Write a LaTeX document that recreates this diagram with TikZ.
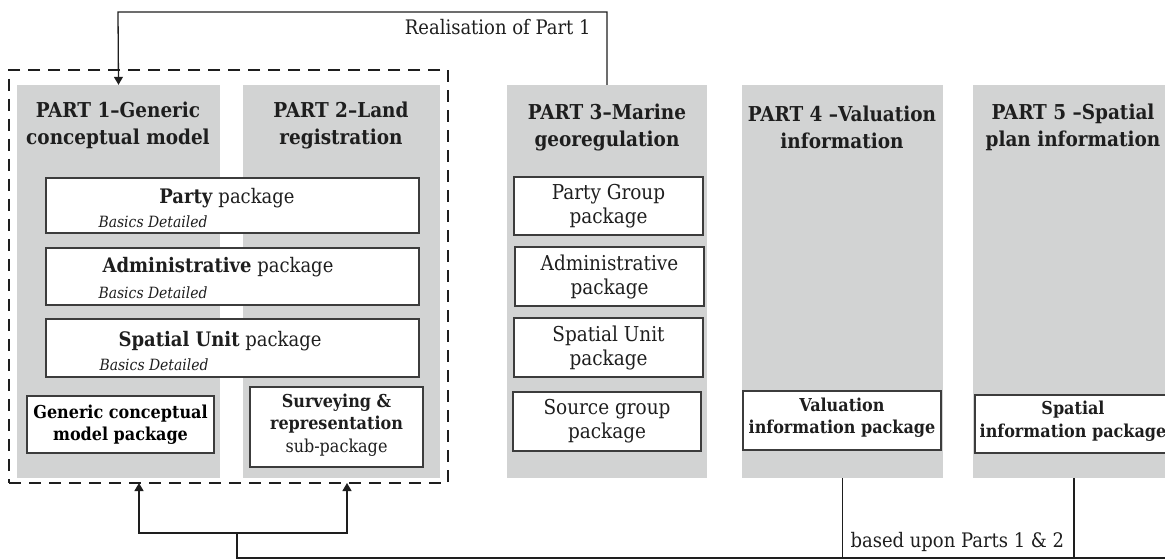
\documentclass[tikz,border=0pt]{standalone}
\usepackage{fontspec}
\setmainfont{DejaVu Serif Condensed}
\usetikzlibrary{arrows.meta,fit}
\definecolor{partgray}{RGB}{210,211,211}
\definecolor{boxline}{RGB}{60,60,60}
\definecolor{ink}{RGB}{30,30,30}

\begin{document}
\begin{tikzpicture}[x=1pt,y=-1pt,
  part/.style={fill=partgray, draw=none, inner sep=0pt},
  pkg/.style={draw=boxline, fill=white, line width=1.7pt, inner sep=0pt, text=ink},
  frame/.style={draw=ink, line width=2.2pt, dash pattern=on 12pt off 8pt, inner sep=0pt},
  title/.style={font=\bfseries\fontsize{20.5}{27}\selectfont, align=center, text=ink},
  bigname/.style={font=\fontsize{20}{24}\selectfont, anchor=base, text=ink},
  levels/.style={font=\itshape\fontsize{15.5}{18}\selectfont, anchor=base west, text=ink},
  boldpkg/.style={font=\bfseries\fontsize{17.8}{22.5}\selectfont, align=center},
  plainpkg/.style={font=\fontsize{20.5}{24}\selectfont, align=center},
  conn/.style={draw=ink, line width=1.3pt},
  tip/.style={-{Triangle[width=9pt,length=8pt]}},
  note/.style={font=\fontsize{20}{24}\selectfont, text=ink},
]
\useasboundingbox (0,0) rectangle (1165,559);

% grey columns of the five parts
\node[part, fit={(17,85) (220,478)}]  (p1) {};
\node[part, fit={(243,85) (440,478)}] (p2) {};
\node[part, fit={(507,85) (707,478)}] (p3) {};
\node[part, fit={(742,85) (943,478)}] (p4) {};
\node[part, fit={(973,85) (1175,478)}] (p5) {};

% dashed frame round parts 1 and 2
\node[frame, fit={(9,70) (448,483)}] (frame) {};

% column titles
\node[title] (t1) at (118,125) {PART 1–Generic\\conceptual model};
\node[title] (t2) at (341,125) {PART 2–Land\\registration};
\node[title] (t3) at (607,127) {PART 3–Marine\\georegulation};
\node[title] (t4) at (842,127) {PART 4 –Valuation\\information};
\node[title] (t5) at (1073,127) {PART 5 –Spatial\\plan information};

% packages shared by parts 1 and 2
\node[pkg, fit={(46,178) (419,233)}] (party) {};
\node[bigname] (partyL) at (227,204) {\textbf{Party} package};
\node[levels] (partyB) at (95,227) {Basics Detailed};

\node[pkg, fit={(46,248) (419,305)}] (admin) {};
\node[bigname] (adminL) at (218,272) {\textbf{Administrative} package};
\node[levels] (adminB) at (95,298) {Basics Detailed};

\node[pkg, fit={(46,319) (419,377)}] (spatial) {};
\node[bigname] (spatialL) at (220,346) {\textbf{Spatial Unit} package};
\node[levels] (spatialB) at (96,370) {Basics Detailed};

\node[pkg, boldpkg, fit={(27,396) (214,453)}] (generic) {};
\node[boldpkg] (genericL) at (generic.center) {Generic conceptual\\model package};

\node[pkg, fit={(250,387) (423,467)}] (survey) {};
\node[boldpkg, text=ink] (surveyL) at ([yshift=2]survey.center)
  {Surveying \&\\representation\\\mdseries sub-package};

% packages of part 3
\node[pkg, fit={(514,177) (703,235)}] (m1) {};
\node[plainpkg, text=ink] at (m1.center) {Party Group\\package};
\node[pkg, fit={(515,247) (704,306)}] (m2) {};
\node[plainpkg, text=ink] at (m2.center) {Administrative\\package};
\node[pkg, fit={(514,318) (703,377)}] (m3) {};
\node[plainpkg, text=ink] at (m3.center) {Spatial Unit\\package};
\node[pkg, fit={(513,392) (701,451)}] (m4) {};
\node[plainpkg, text=ink] at (m4.center) {Source group\\package};

% packages of parts 4 and 5
\node[pkg, fit={(743,391) (941,450)}] (val) {};
\node[boldpkg, text=ink] at ([yshift=3]val.center) {Valuation\\information package};
\node[pkg, fit={(975,395) (1171,453)}] (spi) {};
\node[boldpkg, text=ink] at ([yshift=3]spi.center) {Spatial\\information package};

% realisation of part 1 by part 3
\coordinate (rbend) at (118,12);
\draw[conn, tip] (p3.north) |- (rbend) -- (p1.north);
\node[note, anchor=base east] (rlabel) at (594,35) {Realisation of Part 1};

% parts 4 and 5 are based upon parts 1 and 2
\coordinate (bend) at (1165,558);
\coordinate (corner) at (237,558);
\coordinate (fork) at (237,533);
\coordinate (in1) at (139,483);
\coordinate (in2) at (347,483);
\draw[conn] (p4.south) -- (p4.south |- corner);
\draw[conn] (p5.south) -- (p5.south |- corner);
\draw[conn] (bend) -- (corner) -- (fork);
\draw[conn, tip] (fork) -| (in1);
\draw[conn, tip] (fork) -| (in2);
\node[note, anchor=base west] (blabel) at (847,547) {based upon Parts 1 \& 2};
\end{tikzpicture}
\end{document}
